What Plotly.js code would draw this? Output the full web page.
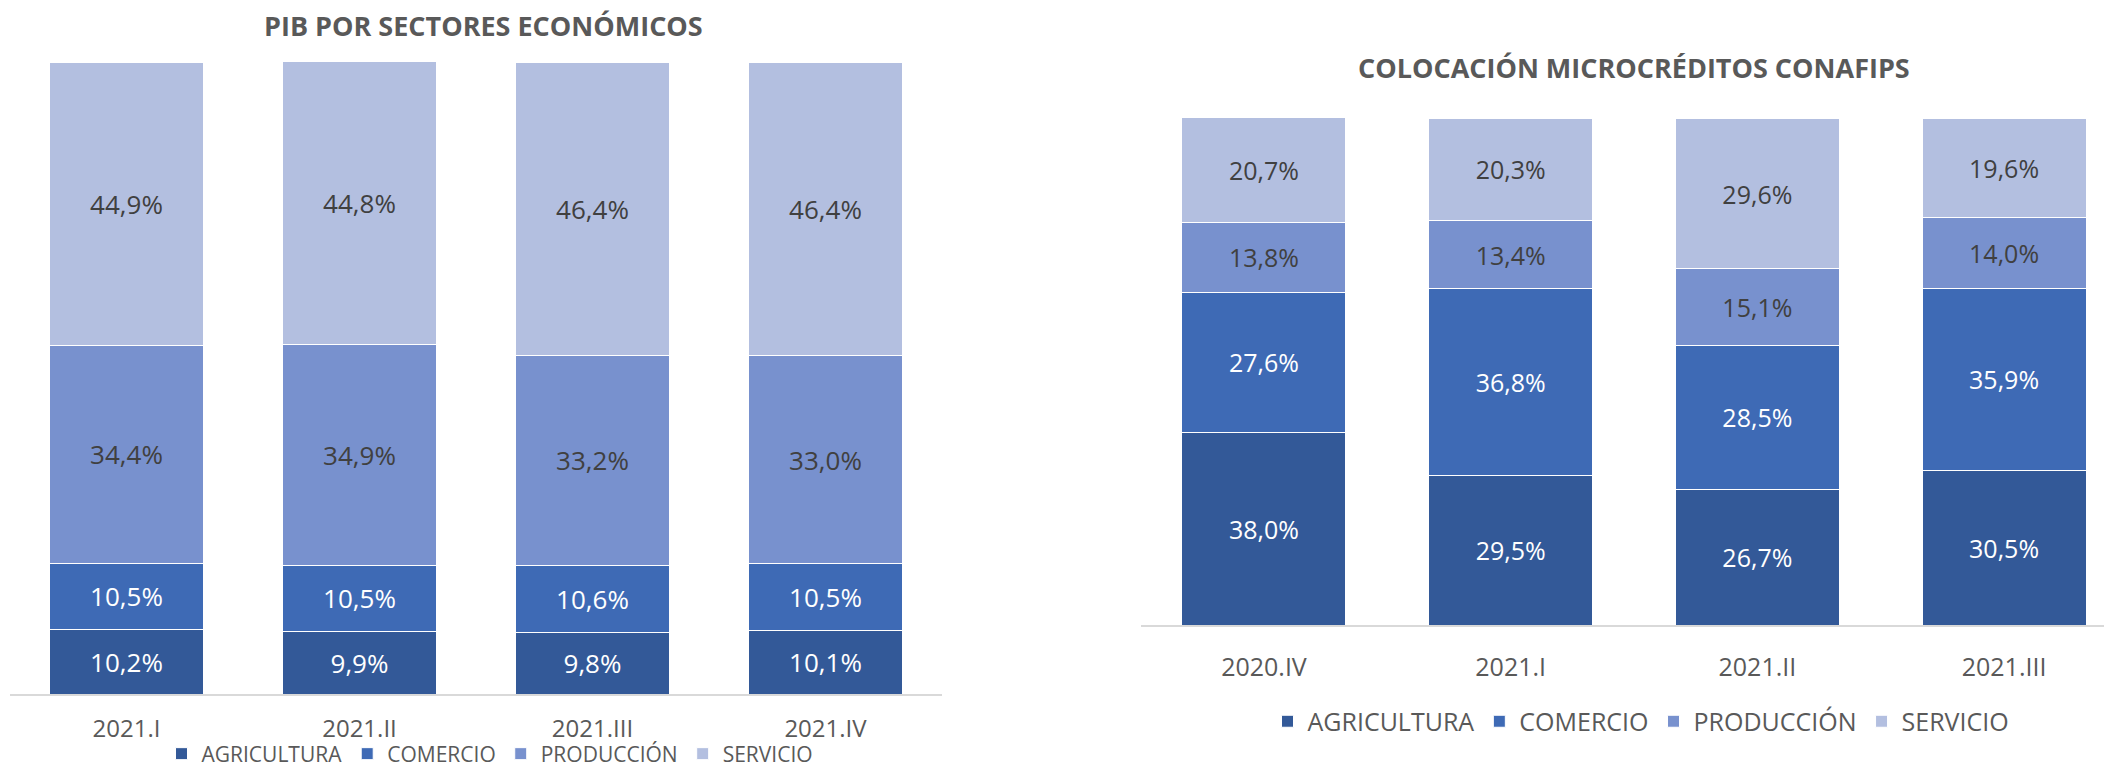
<!DOCTYPE html>
<html>
<head>
<meta charset="utf-8">
<script src="https://cdn.plot.ly/plotly-3.0.1.min.js"></script>
<style>
  html, body { margin: 0; padding: 0; background: #fff; }
  #chart { width: 2104px; height: 768px; }
</style>
</head>
<body>
<div id="chart"></div>
<script>
// PIB por sectores (left panel)
const pibQuarters = ["2021.I", "2021.II", "2021.III", "2021.IV"];
const pibAgricultura = [10.2, 9.9, 9.8, 10.1];
const pibComercio = [10.5, 10.5, 10.6, 10.5];
const pibProduccion = [34.4, 34.9, 33.2, 33.0];
const pibServicio = [44.9, 44.8, 46.4, 46.4];

// Colocacion microcreditos CONAFIPS (right panel)
const conafipsQuarters = ["2020.IV", "2021.I", "2021.II", "2021.III"];
const conafipsAgricultura = [38.0, 29.5, 26.7, 30.5];
const conafipsComercio = [27.6, 36.8, 28.5, 35.9];
const conafipsProduccion = [13.8, 13.4, 15.1, 14.0];
const conafipsServicio = [20.7, 20.3, 29.6, 19.6];

const sectors = ["AGRICULTURA", "COMERCIO", "PRODUCCIÓN", "SERVICIO"];
const sectorColors = ["#335998", "#3e6ab5", "#7891ce", "#b3bfe0"];
const labelColors = ["#ffffff", "#ffffff", "#404040", "#404040"];

const FONT = "Open Sans, Liberation Sans, sans-serif";
const GREY = "#595959";

function makeTraces(quarters, series, xa, ya, legendId, labelSize) {
    return series.map((vals, i) => ({
        type: "bar",
        x: quarters,
        y: vals,
        name: sectors[i],
        xaxis: xa,
        yaxis: ya,
        legend: legendId,
        marker: { color: sectorColors[i], line: { color: "#ffffff", width: 1 } },
        texttemplate: "%{y:.1f}%",
        textposition: "inside",
        insidetextanchor: "middle",
        textangle: 0,
        insidetextfont: { family: FONT, size: labelSize, color: labelColors[i] },
        hoverinfo: "skip"
    }));
}

const traces = [
    ...makeTraces(pibQuarters,
        [pibAgricultura, pibComercio, pibProduccion, pibServicio],
        "x", "y", "legend", 26),
    ...makeTraces(conafipsQuarters,
        [conafipsAgricultura, conafipsComercio, conafipsProduccion, conafipsServicio],
        "x2", "y2", "legend2", 25)
];

const W = 2104, H = 768;

const layout = {
    width: W,
    height: H,
    // legends sit at the very bottom; keep them from pushing the plot area up
    margin: { l: 0, r: 0, t: 0, b: 0, autoexpand: false },
    paper_bgcolor: "#ffffff",
    plot_bgcolor: "#ffffff",
    barmode: "stack",
    bargap: 0.335,
    separators: ",.",
    showlegend: true,
    font: { family: FONT, color: GREY },
    xaxis: {
        domain: [10 / W, 942 / W],
        type: "category",
        range: [-0.5, 3.5],
        showline: true,
        linecolor: "#d9d9d9",
        linewidth: 2,
        ticks: "",
        ticklabelstandoff: 12,
        tickfont: { family: FONT, size: 24, color: GREY },
        fixedrange: true
    },
    yaxis: {
        domain: [(H - 694) / H, (H - 62) / H],
        range: [0, 100],
        visible: false,
        showgrid: false,
        fixedrange: true
    },
    xaxis2: {
        domain: [1140.6 / W, 1],
        anchor: "y2",
        type: "category",
        range: [-0.5, 3.405],
        showline: true,
        linecolor: "#d9d9d9",
        linewidth: 2,
        ticks: "",
        ticklabelstandoff: 19,
        tickfont: { family: FONT, size: 25, color: GREY },
        fixedrange: true
    },
    yaxis2: {
        domain: [(H - 625) / H, (H - 118) / H],
        anchor: "x2",
        range: [0, 100],
        visible: false,
        showgrid: false,
        fixedrange: true
    },
    legend: {
        orientation: "h",
        traceorder: "normal",
        x: 490 / W,
        xanchor: "center",
        y: (H - 754) / H,
        yanchor: "middle",
        font: { family: FONT, size: 21, color: GREY },
        bgcolor: "rgba(0,0,0,0)"
    },
    legend2: {
        orientation: "h",
        traceorder: "normal",
        x: 1641 / W,
        xanchor: "center",
        y: (H - 721.5) / H,
        yanchor: "middle",
        font: { family: FONT, size: 25, color: GREY },
        bgcolor: "rgba(0,0,0,0)"
    },
    annotations: [
        {
            text: "<b>PIB POR SECTORES ECONÓMICOS</b>",
            xref: "paper", yref: "paper",
            x: 483 / W, y: (H - 25.5) / H,
            xanchor: "center", yanchor: "middle",
            showarrow: false,
            font: { family: FONT, size: 27, color: GREY }
        },
        {
            text: "<b>COLOCACIÓN MICROCRÉDITOS CONAFIPS</b>",
            xref: "paper", yref: "paper",
            x: 1634 / W, y: (H - 67) / H,
            xanchor: "center", yanchor: "middle",
            showarrow: false,
            font: { family: FONT, size: 27, color: GREY }
        }
    ]
};

Plotly.newPlot("chart", traces, layout, { displayModeBar: false, staticPlot: true });
</script>
</body>
</html>
